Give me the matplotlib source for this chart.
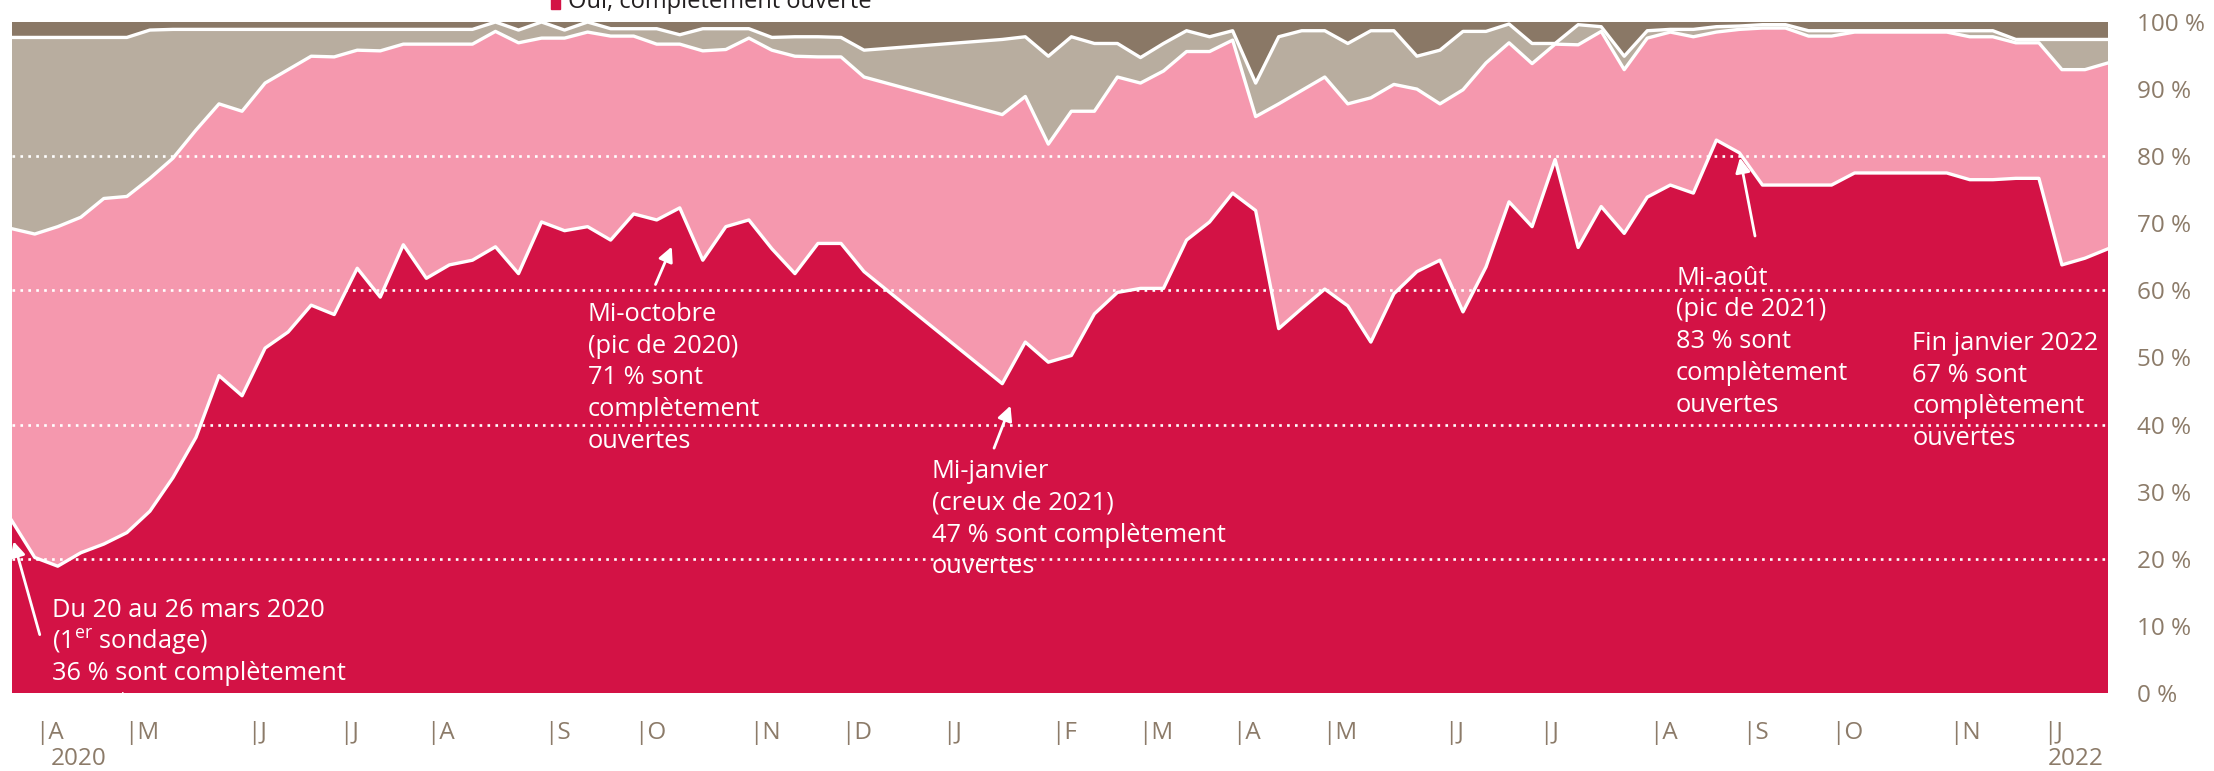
import numpy as np
import matplotlib
matplotlib.use("Agg")
import matplotlib.pyplot as plt
import matplotlib.transforms as mtransforms
from matplotlib.patches import Rectangle

plt.rcParams['font.family'] = ['Open Sans', 'DejaVu Sans']
plt.rcParams['mathtext.fontset'] = 'custom'
plt.rcParams['mathtext.rm'] = 'Open Sans'

# semaines depuis le 1er sondage (20-26 mars 2020), pas de sondage fin déc. 2020
semaines = list(range(0, 38)) + list(range(43, 92))

# % des entreprises : complètement ouvertes
completement = [25.7, 20.2, 18.9, 20.9, 22.2, 23.9, 27.1, 32.1, 38.1, 47.3,
                44.3, 51.4, 53.8, 57.8, 56.4, 63.3, 59.0, 66.8, 61.8, 63.8,
                64.5, 66.5, 62.5, 70.2, 68.9, 69.5, 67.5, 71.4, 70.5, 72.3,
                64.5, 69.5, 70.5, 66.2, 62.5, 67.0, 67.0, 62.8,
                46.1, 52.3, 49.3, 50.3, 56.5, 59.7, 60.3, 60.3, 67.5, 70.2,
                74.5, 71.9, 54.3, 57.3, 60.2, 57.7, 52.3, 59.5, 62.8, 64.5,
                56.8, 63.5, 73.2, 69.5, 79.5, 66.4, 72.5, 68.5, 73.9, 75.7,
                74.5, 82.4, 80.5, 75.7, 75.7, 75.7, 75.7, 77.5, 77.5, 77.5,
                77.5, 77.5, 76.5, 76.5, 76.7, 76.7, 63.8, 64.8, 66.2]
# partiellement ouvertes
partiellement = [43.5, 48.2, 50.6, 50.0, 51.5, 50.1, 49.6, 47.6, 45.8, 40.5,
                 42.4, 39.5, 39.1, 37.1, 38.4, 32.5, 36.7, 29.9, 34.9, 32.9,
                 32.2, 32.1, 34.4, 27.4, 28.7, 29.0, 30.4, 26.5, 26.2, 24.4,
                 31.2, 26.4, 27.1, 29.6, 32.4, 27.8, 27.8, 29.0,
                 40.1, 36.6, 32.5, 36.4, 30.2, 32.1, 30.6, 32.4, 28.1, 25.4,
                 22.8, 14.0, 33.5, 32.5, 31.6, 30.1, 36.4, 31.2, 27.2, 23.3,
                 33.1, 30.4, 23.7, 24.3, 17.2, 30.2, 26.1, 24.4, 23.7, 22.8,
                 23.3, 16.1, 18.4, 23.4, 23.4, 22.2, 22.2, 21.0, 21.0, 21.0,
                 21.0, 21.0, 21.3, 21.3, 20.2, 20.2, 29.1, 28.1, 27.7]
# fermées
fermees = [28.5, 29.3, 28.2, 26.8, 24.0, 23.7, 22.1, 19.2, 15.0, 11.1,
           12.2, 8.0, 6.0, 4.0, 4.1, 3.1, 3.2, 2.2, 2.2, 2.2,
           2.2, 1.4, 1.9, 2.4, 1.2, 1.5, 1.1, 1.1, 2.3, 1.4,
           3.3, 3.1, 1.4, 1.9, 2.9, 3.0, 2.9, 4.0,
           11.2, 8.9, 13.1, 11.1, 10.1, 5.0, 3.8, 4.1, 3.1, 2.2,
           1.4, 5.0, 10.0, 8.9, 6.9, 9.0, 10.0, 8.0, 4.9, 8.0,
           8.7, 4.7, 2.8, 3.0, 0.1, 3.0, 0.7, 2.0, 1.1, 0.4,
           1.1, 0.8, 0.5, 0.5, 0.5, 0.8, 0.8, 0.2, 0.2, 0.2,
           0.2, 0.2, 0.9, 0.9, 0.5, 0.5, 4.5, 4.5, 3.5]
# autres / ne sait pas
autres = [2.3, 2.3, 2.3, 2.3, 2.3, 2.3, 1.2, 1.1, 1.1, 1.1,
          1.1, 1.1, 1.1, 1.1, 1.1, 1.1, 1.1, 1.1, 1.1, 1.1,
          1.1, 0.0, 1.2, 0.0, 1.2, 0.0, 1.0, 1.0, 1.0, 1.9,
          1.0, 1.0, 1.0, 2.3, 2.2, 2.2, 2.3, 4.2,
          2.6, 2.2, 5.1, 2.2, 3.2, 3.2, 5.3, 3.2, 1.3, 2.2,
          1.3, 9.1, 2.2, 1.3, 1.3, 3.2, 1.3, 1.3, 5.1, 4.2,
          1.4, 1.4, 0.3, 3.2, 3.2, 0.4, 0.7, 5.1, 1.3, 1.1,
          1.1, 0.7, 0.6, 0.4, 0.4, 1.3, 1.3, 1.3, 1.3, 1.3,
          1.3, 1.3, 1.3, 1.3, 2.6, 2.6, 2.6, 2.6, 2.6]

# repères de mois (premier sondage du mois)
mois_pos = [1.4, 5.3, 10.6, 14.6, 18.4, 23.5, 27.4, 32.4, 36.4, 40.8, 45.5,
            49.3, 53.4, 57.3, 62.6, 66.7, 71.5, 75.5, 79.4, 84.5, 88.6]
mois_lab = ['A', 'M', 'J', 'J', 'A', 'S', 'O', 'N', 'D', 'J', 'F',
            'M', 'A', 'M', 'J', 'J', 'A', 'S', 'O', 'N', 'J']
annees = {0: '2020', 20: '2022'}

rouge = '#d31245'
rose = '#f598ae'
gris = '#b8ad9f'
brun = '#8a7866'
txt_col = '#8c7b69'

fig = plt.figure(figsize=(22.14, 7.71), dpi=100)
ax = fig.add_axes([11.7 / 2214, 78 / 771, 2096.3 / 2214, 671 / 771])

ax.stackplot(semaines, completement, partiellement, fermees, autres,
             colors=[rouge, rose, gris, brun], lw=0)

for g in [20, 40, 60, 80]:
    ax.axhline(g, color='white', lw=1.9, ls=(0, (1, 2)))

cumul = np.cumsum(np.vstack([completement, partiellement, fermees]), axis=0)
for c in cumul:
    ax.plot(semaines, c, color='white', lw=2.4)

ax.set_xlim(0, 91)
ax.set_ylim(0, 100)
for s in ax.spines.values():
    s.set_visible(False)

ax.yaxis.tick_right()
ax.set_yticks(range(0, 101, 10))
ax.set_yticklabels([f"{v} %" for v in range(0, 101, 10)])
ax.tick_params(axis='y', length=0, pad=21, labelsize=17.5, labelcolor=txt_col)
ax.set_xticks([])

trans = mtransforms.blended_transform_factory(ax.transData, ax.transAxes)
for i, (p, m) in enumerate(zip(mois_pos, mois_lab)):
    ax.text(p - 0.4, -0.06, '|' + m, transform=trans, ha='left', va='center',
            fontsize=17.5, color=txt_col)
    if i in annees:
        ax.text(p + (0.3 if i == 0 else -0.2), -0.098, annees[i], transform=trans,
                ha='left', va='center', fontsize=17.5, color=txt_col)

# annotations
fs = 18.3
ls = 1.36
ax.text(1.75, 14.2, "Du 20 au 26 mars 2020\n(1$^{\\mathrm{er}}$ sondage)\n36 % sont complètement\nouvertes",
        color='white', fontsize=fs, linespacing=1.2, va='top', ha='left', clip_on=True)
ax.annotate('', xy=(0.05, 23.0), xytext=(1.25, 8.3),
            arrowprops=dict(arrowstyle='-|>', color='white', lw=2, mutation_scale=22))

ax.text(25.0, 58.3, "Mi-octobre\n(pic de 2020)\n71 % sont\ncomplètement\nouvertes",
        color='white', fontsize=fs, linespacing=ls, va='top', ha='left')
ax.annotate('', xy=(28.7, 66.9), xytext=(27.9, 60.5),
            arrowprops=dict(arrowstyle='-|>', color='white', lw=2, mutation_scale=22))

ax.text(39.95, 34.9, "Mi-janvier\n(creux de 2021)\n47 % sont complètement\nouvertes",
        color='white', fontsize=fs, linespacing=ls, va='top', ha='left')
ax.annotate('', xy=(43.4, 43.2), xytext=(42.6, 36.1),
            arrowprops=dict(arrowstyle='-|>', color='white', lw=2, mutation_scale=22))

ax.text(72.25, 63.7, "Mi-août\n(pic de 2021)\n83 % sont\ncomplètement\nouvertes",
        color='white', fontsize=fs, linespacing=ls, va='top', ha='left')
ax.annotate('', xy=(75.0, 80.2), xytext=(75.7, 67.7),
            arrowprops=dict(arrowstyle='-|>', color='white', lw=2, mutation_scale=22))

ax.text(82.5, 54.0, "Fin janvier 2022\n67 % sont\ncomplètement\nouvertes",
        color='white', fontsize=fs, linespacing=ls, va='top', ha='left')
ax.annotate('', xy=(91.4, 62.5), xytext=(90.4, 56.2),
            arrowprops=dict(arrowstyle='-|>', color='white', lw=2, mutation_scale=22))

# légende coupée en haut
fig.patches.append(Rectangle((551 / 2214, 762 / 771), 9 / 2214, 14 / 771,
                             transform=fig.transFigure, color=rouge))
fig.text(568 / 2214, 763 / 771, "Oui, complètement ouverte", fontsize=17,
         color='#231f20', ha='left', va='baseline')

fig.savefig("out.png", dpi=100)
